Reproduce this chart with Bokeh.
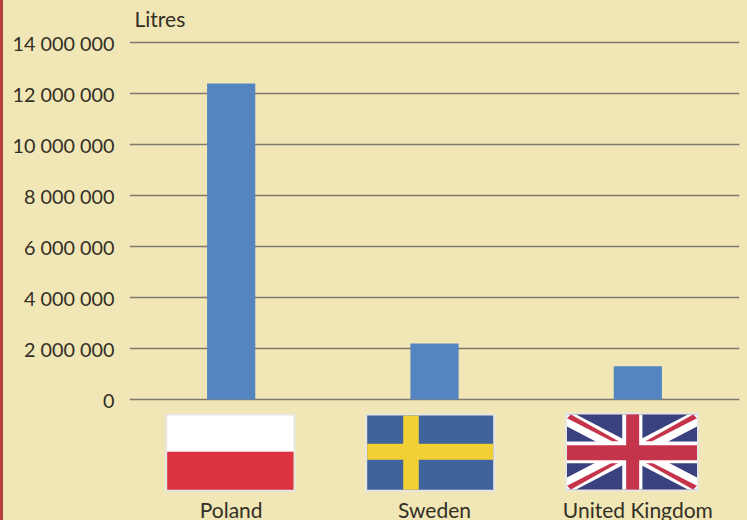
from bokeh.plotting import figure
from bokeh.embed import file_html
from bokeh.resources import INLINE
from bokeh.models import Range1d, FixedTicker, CustomJSTickFormatter

countries = ["Poland", "Sweden", "United Kingdom"]
litres = [12390000, 2200000, 1300000]
tick_values = [0, 2000000, 4000000, 6000000, 8000000, 10000000, 12000000, 14000000]

BG = "#f0e6b6"
STRIPE = "#b5403a"
TEXT = "#332f25"
W, H = 747, 520
L, R, T, B = 129, 739, 30, 520      # frame edges in page pixels
Y0, Y14 = 399, 42                   # pixel rows of 0 and 14 million
per_px = 14000000 / (Y0 - Y14)
centers = [i + 0.5 for i in range(len(countries))]

p = figure(width=W, height=H, output_backend="svg", toolbar_location=None,
           x_range=Range1d(0, len(countries)),
           y_range=Range1d(-(B - Y0) * per_px, (Y0 - T) * per_px),
           title="Litres", background_fill_color=None, border_fill_color=None,
           min_border_left=L, min_border_right=W - R, min_border_top=T, min_border_bottom=H - B,
           outline_line_color=None)
p.styles = {"position": "fixed", "left": "0px", "top": "0px",
            "background": f"linear-gradient(90deg, {STRIPE} 3px, {BG} 3px)"}

p.title.text_font = "Lato"
p.title.text_font_size = "21px"
p.title.text_font_style = "normal"
p.title.text_color = TEXT
p.title.offset = 5
p.title.standoff = 0

p.yaxis.ticker = FixedTicker(ticks=tick_values)
p.yaxis.formatter = CustomJSTickFormatter(code="return tick.toString().replace(/\\B(?=(\\d{3})+$)/g, ' ');")
p.yaxis.axis_line_color = None
p.yaxis.major_tick_line_color = None
p.yaxis.minor_tick_line_color = None
p.yaxis.major_label_text_font = "Lato"
p.yaxis.major_label_text_font_size = "19.8px"
p.yaxis.major_label_text_color = TEXT
p.yaxis.major_label_standoff = 9

# flags are decoration: page pixels are converted to data units
def X(px): return (px - L) / (R - L) * len(countries)
def Y(py): return (Y0 - py) * per_px

p.xaxis.ticker = FixedTicker(ticks=centers)
p.xaxis.major_label_overrides = dict(zip(centers, countries))
p.xaxis.fixed_location = Y(490)
p.xaxis.axis_line_color = None
p.xaxis.major_tick_line_color = None
p.xaxis.minor_tick_line_color = None
p.xaxis.major_label_text_font = "Lato"
p.xaxis.major_label_text_font_size = "21px"
p.xaxis.major_label_text_color = TEXT
p.xaxis.major_label_standoff = 0

p.xgrid.grid_line_color = None
p.ygrid.ticker = FixedTicker(ticks=tick_values)
p.ygrid.grid_line_color = "#7d7a70"
p.ygrid.grid_line_width = 1.3

p.vbar(x=centers, top=litres, width=0.237, color="#5585c1", line_color=None)

def box(x0, y0, x1, y1, color):
    p.quad(left=[X(x0)], right=[X(x1)], top=[Y(y0)], bottom=[Y(y1)], color=color, line_color=None)

def poly(xs, ys, color):
    p.patch([X(v) for v in xs], [Y(v) for v in ys], color=color, line_color=None)

EDGE = "#e7e5df"
# Poland
box(164.5, 413, 295, 491.5, EDGE)
box(166.7, 415, 293, 451.3, "#ffffff")
box(166.7, 451.3, 293, 489.3, "#dd3341")
# Sweden
box(364.5, 413, 495, 491.5, EDGE)
box(366.7, 415, 492.7, 489.3, "#3f639b")
box(402.7, 415, 418.3, 489.3, "#f0d035")
box(366.7, 443.3, 492.7, 459.3, "#f0d035")
# UK
x0, x1, y0, y1 = 566.5, 696.5, 414, 489
box(564.5, 412, 698.5, 491, EDGE)
box(x0, y0, x1, y1, "#3a417f")
fw, fh = x1 - x0, y1 - y0
def ux(u): return x0 + u * fw
def uy(v): return y0 + v * fh
d = 0.07
for (a, b, c, e) in [(0, 0, 1, 1), (0, 1, 1, 0)]:
    sgn = 1 if b == 0 else -1
    poly([ux(a), ux(a + d), ux(1), ux(1), ux(1 - d), ux(0)],
         [uy(b), uy(b), uy(e - sgn * 0.16), uy(e), uy(e), uy(b + sgn * 0.16)], "#ffffff")
for (sx, sy) in [(0, 0), (1, 0), (0, 1), (1, 1)]:
    ax = 1 - 2 * sx
    ay = 1 - 2 * sy
    poly([ux(sx), ux(sx + ax * 0.03), ux(sx + ax * 0.40), ux(sx + ax * 0.35)],
         [uy(sy + ay * 0.05), uy(sy), uy(sy + ay * 0.36), uy(sy + ay * 0.36)], "#c4344a")
box(ux(0.425), y0, ux(0.58), y1, "#ffffff")
box(x0, uy(0.36), x1, uy(0.65), "#ffffff")
box(ux(0.455), y0, ux(0.555), y1, "#c4344a")
box(x0, uy(0.41), x1, uy(0.61), "#c4344a")

open("out.html", "w").write(file_html(p, INLINE))
